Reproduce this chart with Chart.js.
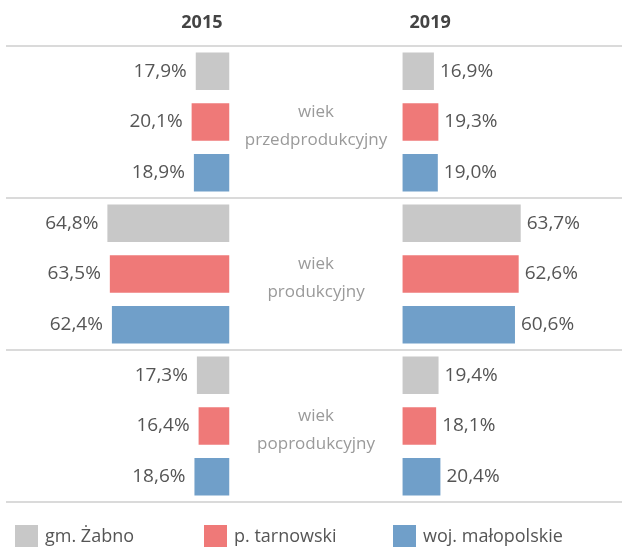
<!DOCTYPE html>
<html>
<head>
<meta charset="utf-8">
<script src="https://cdn.jsdelivr.net/npm/chart.js@4"></script>
<style>
  body { margin: 0; background: #fff; }
</style>
</head>
<body>
<canvas id="ageChart" width="622" height="554"></canvas>
<script>
// age groups (category labels, two lines each)
var groups = [["wiek", "przedprodukcyjny"], ["wiek", "produkcyjny"], ["wiek", "poprodukcyjny"]];
var years = ["2015", "2019"];
var areas = ["gm. Żabno", "p. tarnowski", "woj. małopolskie"];
var colors = ["#c8c8c8", "#ef7978", "#709fc9"];

// shares in %, per area, one value per age group
var zabno2015 = [17.9, 64.8, 17.3];
var tarnow2015 = [20.1, 63.5, 16.4];
var malop2015 = [18.9, 62.4, 18.6];
var zabno2019 = [16.9, 63.7, 19.4];
var tarnow2019 = [19.3, 62.6, 18.1];
var malop2019 = [19.0, 60.6, 20.4];

var values2015 = [zabno2015, tarnow2015, malop2015];
var values2019 = [zabno2019, tarnow2019, malop2019];

var datasets = [];
areas.forEach(function(a, i) {
  datasets.push({ label: a, data: values2015[i], xAxisID: "xL", stack: "s" + i, backgroundColor: colors[i] });
});
areas.forEach(function(a, i) {
  datasets.push({ label: a, data: values2019[i], xAxisID: "xR", stack: "s" + i, backgroundColor: colors[i] });
});

function fmt(v) {
  return v.toFixed(1).replace(".", ",") + "%";
}

// value labels, middle labels, year headers and legend
var textPlugin = {
  id: "texts",
  afterDatasetsDraw: function(chart) {
    var ctx = chart.ctx;
    var xL = chart.scales.xL, xR = chart.scales.xR, y = chart.scales.y;
    var zeroL = xL.getPixelForValue(0), zeroR = xR.getPixelForValue(0);
    ctx.save();
    ctx.textBaseline = "middle";

    ctx.font = '19px "Open Sans"';
    ctx.fillStyle = "#555";
    chart.data.datasets.forEach(function(ds, i) {
      var left = ds.xAxisID == "xL";
      ctx.textAlign = left ? "right" : "left";
      chart.getDatasetMeta(i).data.forEach(function(bar, j) {
        ctx.fillText(fmt(ds.data[j]), bar.x + (left ? -9 : 6), bar.y);
      });
    });

    var mid = (zeroL + zeroR) / 2;
    ctx.font = '17px "Open Sans"';
    ctx.fillStyle = "#9a9a9a";
    ctx.textAlign = "center";
    groups.forEach(function(g, i) {
      var cy = y.getPixelForValue(i);
      ctx.fillText(g[0], mid, cy - 10);
      ctx.fillText(g[1], mid, cy + 18);
    });

    ctx.font = 'bold 18px "Open Sans"';
    ctx.fillStyle = "#444";
    var hy = chart.chartArea.top / 2;
    ctx.textAlign = "right";
    ctx.fillText(years[0], zeroL - 7, hy);
    ctx.textAlign = "left";
    ctx.fillText(years[1], zeroR + 7, hy);

    // legend in three columns under the chart
    var ly = chart.chartArea.bottom + 23;
    ctx.font = '18px "Open Sans"';
    areas.forEach(function(a, i) {
      var lx = chart.chartArea.left + 9 + i * 189;
      ctx.fillStyle = colors[i];
      ctx.fillRect(lx, ly, 23, 22);
      ctx.fillStyle = "#555";
      ctx.textAlign = "left";
      ctx.fillText(a, lx + 30, ly + 12);
    });
    ctx.restore();
  }
};

new Chart("ageChart", {
  type: "bar",
  data: {
    labels: groups.map(function(g) { return g.join(" "); }),
    datasets: datasets
  },
  options: {
    indexAxis: "y",
    responsive: false,
    animation: false,
    layout: { padding: { top: 46, bottom: 44, left: 6, right: 0 } },
    datasets: { bar: { categoryPercentage: 1, barPercentage: 0.74 } },
    scales: {
      y: {
        ticks: { display: false },
        grid: { color: "#dadada", lineWidth: 2, drawTicks: false },
        border: { display: false }
      },
      xL: {
        type: "linear", position: "bottom", reverse: true,
        min: 0, max: 118.6,
        stack: "cols", stackWeight: 223.5,
        ticks: { display: false }, grid: { display: false }, border: { display: false }
      },
      xR: {
        type: "linear", position: "bottom",
        min: -93.3, max: 118.3,
        stack: "cols", stackWeight: 392.5,
        ticks: { display: false }, grid: { display: false }, border: { display: false }
      }
    },
    plugins: {
      legend: { display: false },
      tooltip: { enabled: false }
    }
  },
  plugins: [textPlugin]
});
</script>
</body>
</html>
